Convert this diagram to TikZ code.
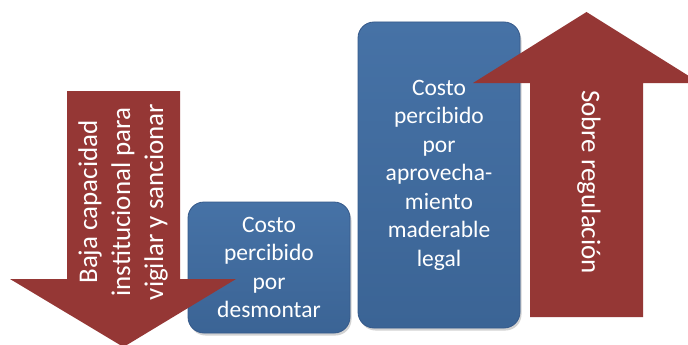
\documentclass[tikz,border=0pt]{standalone}
\usepackage{fontspec}
\setmainfont{Carlito}
\usetikzlibrary{shadows}
\definecolor{arrowred}{HTML}{953735}
\definecolor{boxtop}{HTML}{4672A6}
\definecolor{boxbot}{HTML}{3B6495}
\definecolor{boxedge}{HTML}{35598A}
\tikzset{
  bigarrow/.style={fill=arrowred, draw=none},
  arrowtext/.style={text=white, align=center, font=\fontsize{27}{33}\selectfont, inner sep=0pt},
  costbox/.style={rectangle, rounded corners=16pt, top color=boxtop, bottom color=boxbot,
    draw=boxedge, line width=0.8pt, minimum width=162pt, text=white, align=center,
    font=\fontsize{23.5}{28.5}\selectfont,
    drop shadow={opacity=0.35, shadow xshift=1.5pt, shadow yshift=-2.5pt}},
}
\begin{document}
\begin{tikzpicture}[x=1pt, y=-1pt]
\useasboundingbox (0,0) rectangle (688,345);
\clip (0,0) rectangle (688,345);
\fill[white] (0,0) rectangle (688,345);
% boxes
\node[costbox, minimum height=131pt] (desm) at (269,267.5) {Costo\\percibido\\por\\desmontar};
\node[costbox, minimum height=306pt] (aprov) at (439,175) {\raisebox{-3pt}{\begin{tabular}{@{}c@{}}Costo\\percibido\\por\\aprovecha-\\miento\\maderable\\legal\end{tabular}}};
% down arrow
\path[bigarrow] (67,91) -- (180,91) -- (180,279) -- (236,279) -- (123.5,347) -- (10,279) -- (67,279) -- cycle;
\node[arrowtext, rotate=90] (baja) at (123,202) {Baja capacidad\\institucional para\\vigilar y sancionar};
% up arrow
\path[bigarrow] (530,317) -- (643,317) -- (643,83) -- (700,83) -- (586.5,12) -- (473,83) -- (530,83) -- cycle;
\node[arrowtext, rotate=-90] (sobre) at (589,182) {Sobre regulación};
\end{tikzpicture}
\end{document}
